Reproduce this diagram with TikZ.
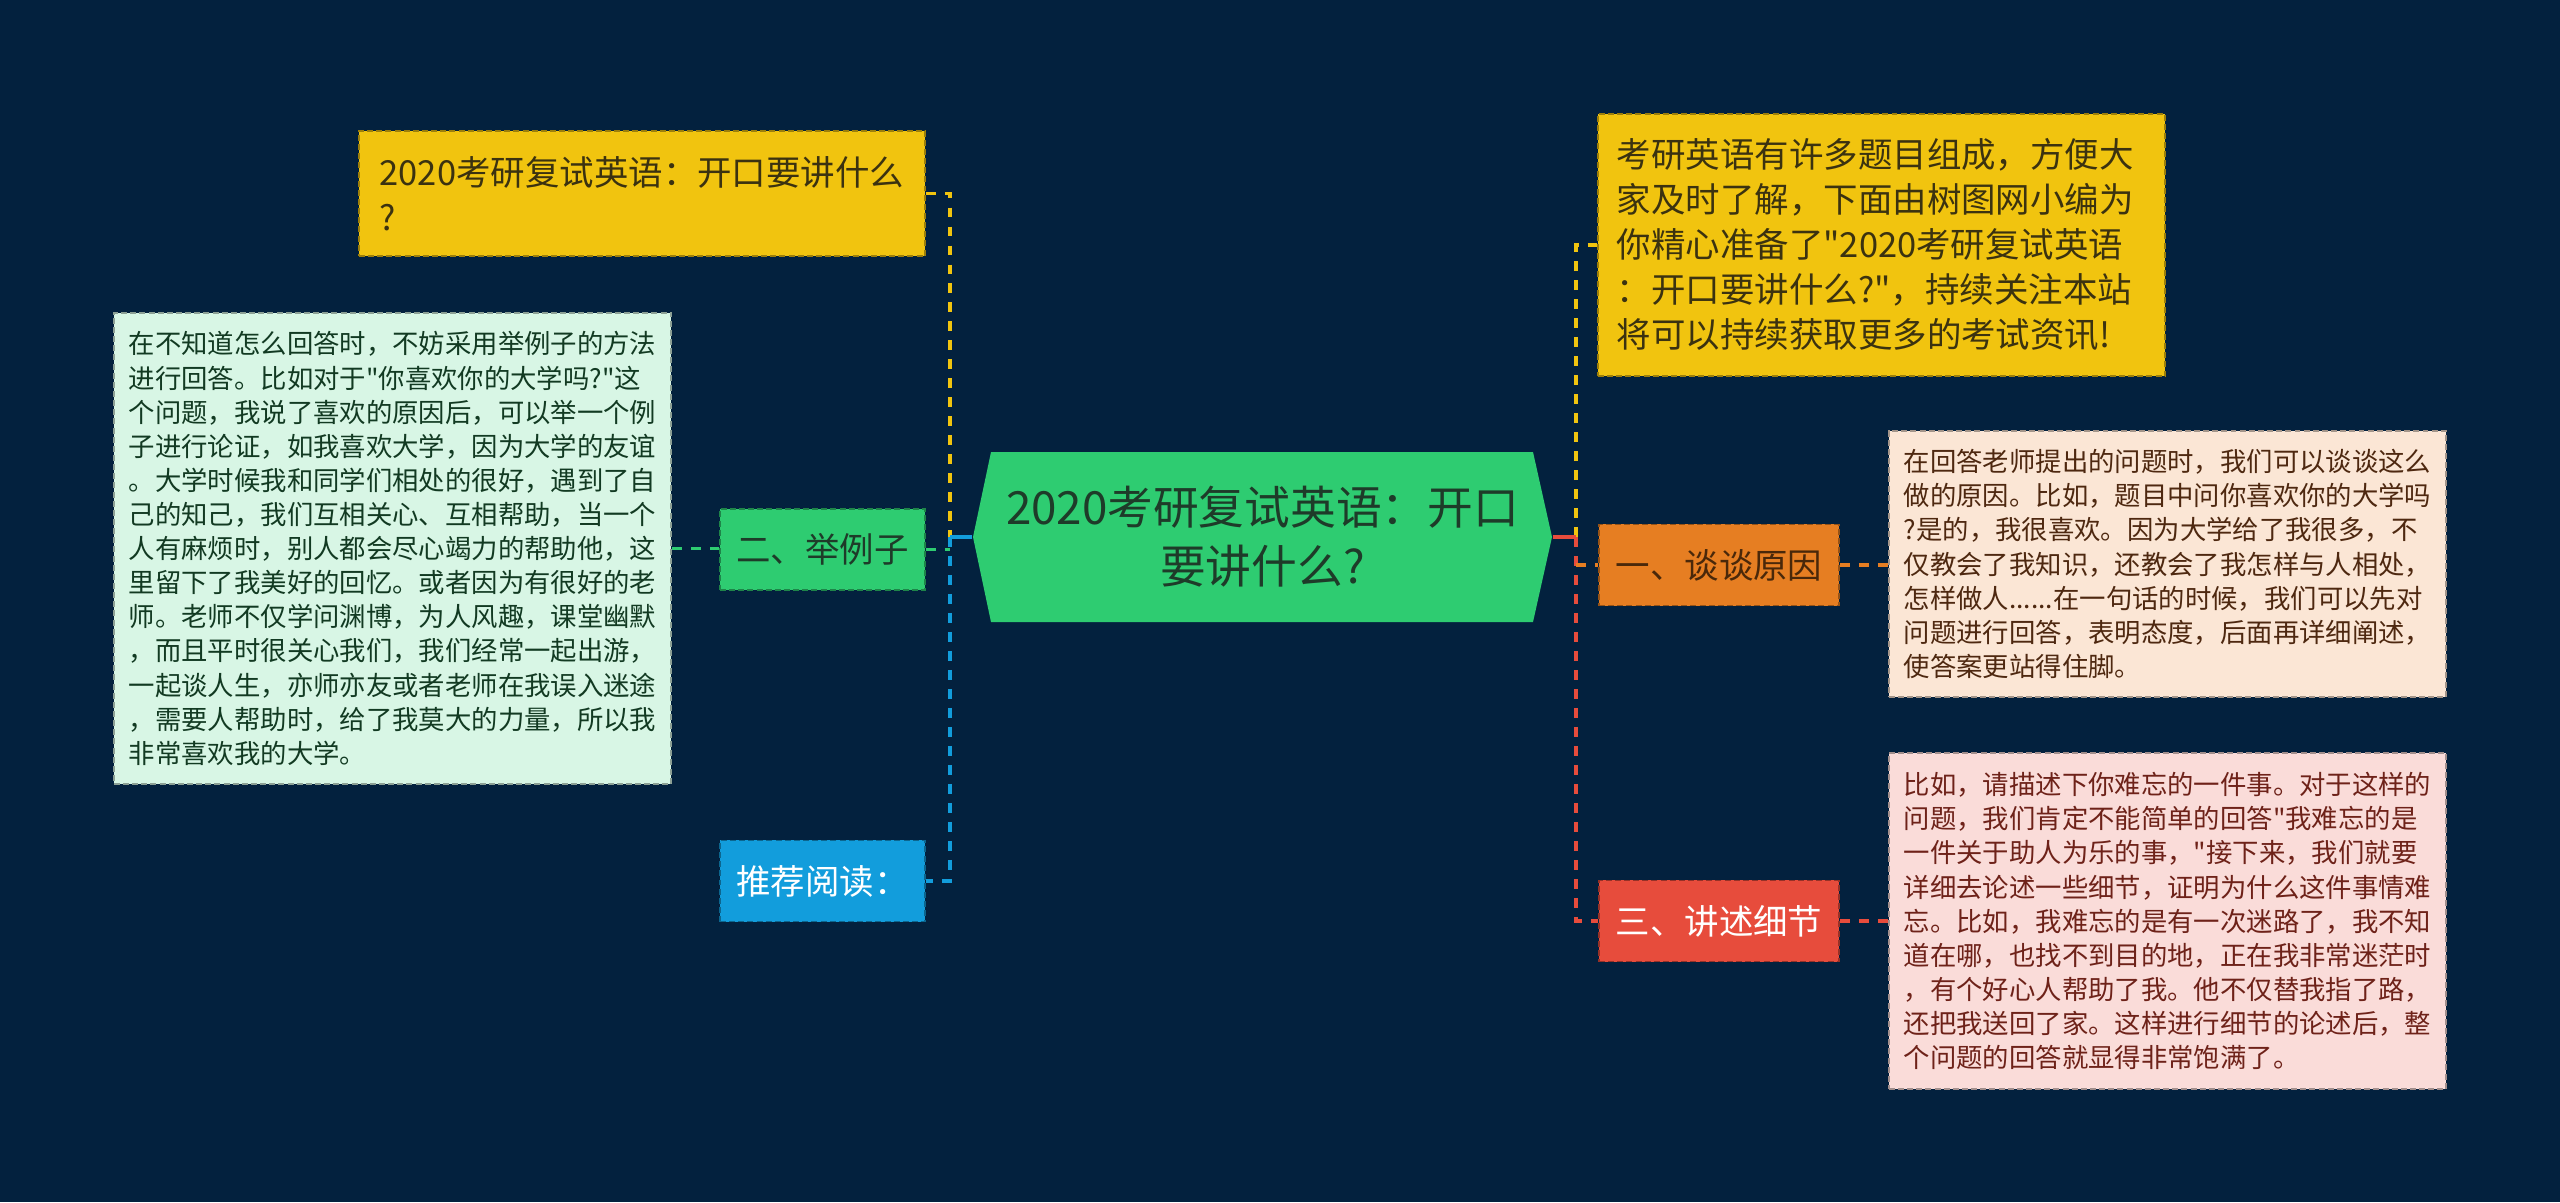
\documentclass[tikz,border=0pt]{standalone}
\usepackage{fontspec}
\setmainfont{Noto Sans CJK SC}[Ligatures=TeXOff]
\usepackage{tikz}
\definecolor{nightbg}{RGB}{3,33,62}
\definecolor{sunink}{HTML}{F1C40F}
\definecolor{suntext}{HTML}{3B3210}
\definecolor{leafink}{HTML}{2ECC71}
\definecolor{leaftext}{HTML}{1E3B29}
\definecolor{mintpaper}{HTML}{D8F6E5}
\definecolor{minttext}{HTML}{123A22}
\definecolor{skyink}{HTML}{129DDC}
\definecolor{orangeink}{HTML}{E67E22}
\definecolor{orangetext}{HTML}{4A280A}
\definecolor{peachpaper}{HTML}{FBE6D5}
\definecolor{peachtext}{HTML}{4E2810}
\definecolor{redink}{HTML}{E74C3C}
\definecolor{pinkpaper}{HTML}{FADCD9}
\definecolor{pinktext}{HTML}{6E2219}

\begin{document}
\begin{tikzpicture}[x=0.01cm, y=-0.01cm,
  box/.style={rectangle, draw=#1!65!black, fill=#1, line width=0.5pt,
    dash pattern=on 1.7pt off 0.9pt, align=left, inner sep=0pt},
  smalltext/.style={font=\fontsize{7.5pt}{9.7pt}\selectfont},
  bigtext/.style={font=\fontsize{9.8pt}{12.8pt}\selectfont},
  twig/.style={box=#1, bigtext, minimum width=2.05cm, minimum height=0.81cm},
  link/.style={line width=1pt, dash pattern=on 2.8pt off 2.6pt}]
  \useasboundingbox (0,0) rectangle (2560,1202);
  \fill[nightbg] (0,0) rectangle (2560,1202);

  % centre
  \fill[leafink] (973,537) -- (991,452) -- (1533,452) -- (1552,537) -- (1533,622) -- (991,622) -- cycle;
  \node[align=center, text=leaftext, font=\fontsize{13pt}{16.8pt}\selectfont,
    minimum width=5.79cm, minimum height=1.70cm, inner sep=0pt] (hub) at (1262.5,537)
    {2020考研复试英语：开口\\要讲什么?};

  % left side
  \node[box=sunink, bigtext, text=suntext, minimum width=5.66cm, minimum height=1.25cm] (ask) at (642,193.5)
    {2020考研复试英语：开口要讲什么\\?};
  \node[twig=leafink, text=leaftext] (example) at (822.5,549.5) {二、举例子};
  \node[twig=skyink, text=white] (read) at (822.5,881) {推荐阅读：};
  \node[box=mintpaper, smalltext, text=minttext, minimum width=5.57cm, minimum height=4.71cm] (story) at (392.5,548.5)
    {在不知道怎么回答时，不妨采用举例子的方法\\
     进行回答。比如对于"你喜欢你的大学吗?"这\\
     个问题，我说了喜欢的原因后，可以举一个例\\
     子进行论证，如我喜欢大学，因为大学的友谊\\
     。大学时候我和同学们相处的很好，遇到了自\\
     己的知己，我们互相关心、互相帮助，当一个\\
     人有麻烦时，别人都会尽心竭力的帮助他，这\\
     里留下了我美好的回忆。或者因为有很好的老\\
     师。老师不仅学问渊博，为人风趣，课堂幽默\\
     ，而且平时很关心我们，我们经常一起出游，\\
     一起谈人生，亦师亦友或者老师在我误入迷途\\
     ，需要人帮助时，给了我莫大的力量，所以我\\
     非常喜欢我的大学。};

  % right side
  \node[box=sunink, bigtext, text=suntext, text width=5.29cm, inner xsep=0.19cm,
    minimum height=2.62cm] (intro) at (1881.5,245)
    {考研英语有许多题目组成，方便大\\
     家及时了解，下面由树图网小编为\\
     你精心准备了"2020考研复试英语\\
     ：开口要讲什么?"，持续关注本站\\
     将可以持续获取更多的考试资讯!};
  \node[twig=orangeink, text=orangetext, minimum width=2.40cm] (why) at (1719,565) {一、谈谈原因};
  \node[twig=redink, text=white, minimum width=2.40cm] (how) at (1719,921) {三、讲述细节};
  \node[box=peachpaper, smalltext, text=peachtext, minimum width=5.57cm, minimum height=2.66cm] (reason) at (2167.5,564)
    {在回答老师提出的问题时，我们可以谈谈这么\\
     做的原因。比如，题目中问你喜欢你的大学吗\\
     ?是的，我很喜欢。因为大学给了我很多，不\\
     仅教会了我知识，还教会了我怎样与人相处，\\
     怎样做人......在一句话的时候，我们可以先对\\
     问题进行回答，表明态度，后面再详细阐述，\\
     使答案更站得住脚。};
  \node[box=pinkpaper, smalltext, text=pinktext, minimum width=5.57cm, minimum height=3.36cm] (detail) at (2167.5,921)
    {比如，请描述下你难忘的一件事。对于这样的\\
     问题，我们肯定不能简单的回答"我难忘的是\\
     一件关于助人为乐的事，"接下来，我们就要\\
     详细去论述一些细节，证明为什么这件事情难\\
     忘。比如，我难忘的是有一次迷路了，我不知\\
     道在哪，也找不到目的地，正在我非常迷茫时\\
     ，有个好心人帮助了我。他不仅替我指了路，\\
     还把我送回了家。这样进行细节的论述后，整\\
     个问题的回答就显得非常饱满了。};

  \coordinate (lspine) at (950,537);
  \coordinate (rspine) at (1576,537);

  \draw[link, sunink] (ask.east) -| (lspine);
  \draw[link, skyink] (lspine) |- (read.east);
  \draw[link, leafink] (example.east) -- (example.east -| lspine);
  \draw[link, leafink] (story.east) -- (story.east -| example.west);
  \draw[line width=1pt, skyink] (hub.west) -- (lspine);

  \draw[link, sunink] (rspine) |- (intro.west);
  \draw[link, redink] (rspine) |- (how.west);
  \draw[link, orangeink] (why.west -| rspine) -- (why.west);
  \draw[line width=1pt, redink] (hub.east) -- (rspine);
  \draw[link, orangeink] (why.east) -- (why.east -| reason.west);
  \draw[link, redink] (how.east) -- (how.east -| detail.west);
\end{tikzpicture}
\end{document}
